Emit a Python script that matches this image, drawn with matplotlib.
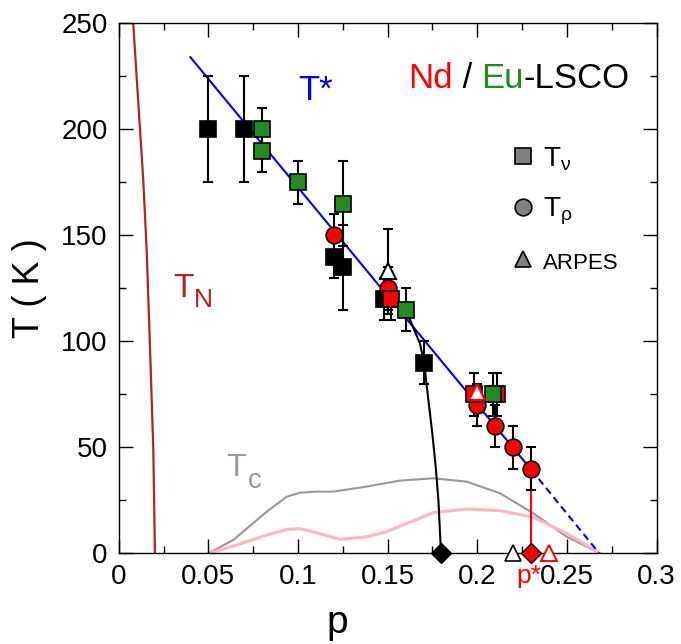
import matplotlib
matplotlib.use('Agg')
import matplotlib.pyplot as plt
import matplotlib.transforms as mtransforms
from matplotlib.lines import Line2D

plt.rcParams['font.family'] = ['Liberation Sans', 'DejaVu Sans']
plt.rcParams['mathtext.fontset'] = 'custom'
plt.rcParams['mathtext.rm'] = 'Liberation Sans'
plt.rcParams['mathtext.it'] = 'Liberation Sans:italic'

# T_nu, LSCO (black squares)
lsco_p = [0.05, 0.07, 0.12, 0.125, 0.148, 0.17]
lsco_T = [200, 200, 140, 135, 120, 90]
lsco_err = [25, 25, 10, 20, 10, 10]

# T_nu, Eu-LSCO (green squares)
eu_p = [0.08, 0.08, 0.1, 0.125, 0.16, 0.2085]
eu_T = [200, 190, 175, 165, 115, 75]
eu_err = [10, 10, 10, 20, 10, 10]

# T_nu, Nd-LSCO (red squares)
nd_p = [0.152, 0.198, 0.211]
nd_T = [120, 75, 75]
nd_err = [10, 10, 10]

# T_rho, Nd-LSCO (red circles)
rho_p = [0.12, 0.15, 0.2, 0.21, 0.22, 0.23]
rho_T = [150, 125, 70, 60, 50, 40]
rho_err = [10, 10, 10, 10, 10, 10]

# ARPES
arpes_p = [0.15]
arpes_T = [133]
arpes_err = [20]
arpes_nd_p = [0.2]
arpes_nd_T = [76]

# T = 0 markers
pc_lsco = 0.18
pstar_nd = 0.23
arpes0_lsco = 0.22
arpes0_nd = 0.24

# T* line
tstar_p = [0.04, 0.23]
tstar_T = [234, 39.5]
tstar_dash_p = [0.23, 0.268]
tstar_dash_T = [39.5, 0]

# drop of T_nu in LSCO
drop_p = [0.1597, 0.1625, 0.168, 0.1704, 0.1727, 0.1749, 0.1768, 0.1783, 0.1792, 0.1798]
drop_T = [114.8, 110.1, 99, 89.6, 72.3, 56.6, 40.8, 25.1, 9.4, 0]

# p* vertical line
pstar_p = [0.23, 0.23]
pstar_T = [40, 0]

# T_N
tn_p = [0.0081, 0.0137, 0.0156, 0.0175, 0.0193, 0.0202]
tn_T = [250, 176, 143, 96, 49, 0]

# Tc domes
tc_lsco_p = [0.05, 0.0639, 0.0825, 0.0937, 0.1011, 0.1104, 0.1197, 0.1383, 0.1569,
             0.1755, 0.1941, 0.2127, 0.2312, 0.2499, 0.2685]
tc_lsco_T = [0, 6.3, 19.6, 26.7, 28.6, 29.1, 29.1, 31.5, 34.3, 35.4, 33.8, 28.3, 18.9, 7.8, 0]
tc_nd_p = [0.05, 0.0639, 0.0825, 0.0937, 0.1011, 0.1104, 0.1234, 0.1383, 0.1495, 0.1606,
           0.1755, 0.1941, 0.2127, 0.2312, 0.2499, 0.2685]
tc_nd_T = [0, 3.4, 8.6, 11.3, 11.6, 9.7, 6.6, 7.8, 10.2, 14.1, 19.2, 20.9, 20.1, 17, 9.4, 0]

RED = '#ff0000'
GREEN = '#228b22'
BLUE = '#0000ff'
BROWN = '#b22222'

fig = plt.figure(figsize=(6.81, 6.44), dpi=100)
ax = fig.add_axes([0.1743, 0.1408, 0.7899, 0.8230])

# curves
ax.plot(tc_lsco_p, tc_lsco_T, color='#999999', lw=1.5, zorder=1)
ax.plot(tc_nd_p, tc_nd_T, color='#ffb6c1', lw=2.2, zorder=1)
ax.plot(tn_p, tn_T, color=BROWN, lw=1.6, zorder=1)
ax.plot(tstar_p, tstar_T, color=BLUE, lw=1.5, zorder=2)
ax.plot(tstar_dash_p, tstar_dash_T, color=BLUE, lw=1.5, ls=(0, (3.5, 2.2)), zorder=2)
ax.plot(drop_p, drop_T, color='black', lw=1.5, zorder=2)
ax.plot(pstar_p, pstar_T, color=RED, lw=1.5, zorder=2)

# error bars
ebkw = dict(fmt='none', ecolor='black', elinewidth=1.5, capsize=3.5, capthick=1.5, zorder=3)
ax.errorbar(lsco_p, lsco_T, yerr=lsco_err, **ebkw)
ax.errorbar(eu_p, eu_T, yerr=eu_err, **ebkw)
ax.errorbar(nd_p, nd_T, yerr=nd_err, **ebkw)
ax.errorbar(rho_p, rho_T, yerr=rho_err, **ebkw)
ax.errorbar(arpes_p, arpes_T, yerr=arpes_err, **ebkw)

# markers
mkw = dict(ls='none', mec='black', mew=1.2)
ax.plot(lsco_p, lsco_T, marker='s', ms=11.5, mfc='black', zorder=4, **mkw)
ax.plot(rho_p, rho_T, marker='o', ms=12, mfc=RED, zorder=5, **mkw)
ax.plot(nd_p, nd_T, marker='s', ms=11.5, mfc=RED, zorder=6, **mkw)
ax.plot(eu_p, eu_T, marker='s', ms=11.5, mfc=GREEN, zorder=7, **mkw)
ax.plot(arpes_p, arpes_T, marker='^', ms=11.5, mfc='white', mec='black', mew=1.4,
        ls='none', zorder=8)
ax.plot(arpes_nd_p, arpes_nd_T, marker='^', ms=11.5, mfc='white', mec=RED, mew=1.6,
        ls='none', zorder=8)

# T = 0 markers
ax.plot([pc_lsco], [0], marker='D', ms=10.5, mfc='black', mec='black', ls='none',
        zorder=9, clip_on=False)
ax.plot([pstar_nd], [0], marker='D', ms=10.5, mfc=RED, mec='black', mew=1.0, ls='none',
        zorder=9, clip_on=False)
ax.plot([arpes0_lsco], [0], marker='^', ms=11, mfc='white', mec='black', mew=1.2,
        ls='none', zorder=8, clip_on=False)
ax.plot([arpes0_nd], [0], marker='^', ms=11, mfc='white', mec=RED, mew=1.4,
        ls='none', zorder=8, clip_on=False)

# axes
ax.set_xlim(0, 0.3)
ax.set_ylim(0, 250)
ax.set_xticks([0, 0.05, 0.1, 0.15, 0.2, 0.25, 0.3])
ax.set_xticklabels(['0', '0.05', '0.1', '0.15', '0.2', '0.25', '0.3'])
ax.set_xticks([0.025, 0.075, 0.125, 0.175, 0.225, 0.275], minor=True)
ax.set_yticks([0, 50, 100, 150, 200, 250])
ax.set_yticks([25, 75, 125, 175, 225], minor=True)
ax.tick_params(which='both', direction='in', top=True, right=True, width=1.0,
               labelsize=20, pad=8)
ax.tick_params(which='major', length=10)
ax.tick_params(which='minor', length=5)
for s in ax.spines.values():
    s.set_linewidth(1.0)

ax.set_xlabel('p', fontsize=28)
ax.xaxis.set_label_coords(0.406, -0.097)
ax.set_ylabel('T ( K )', fontsize=26, labelpad=10)

# labels
ax.text(0.1, 214, 'T*', color=BLUE, fontsize=25, va='baseline')

tN = ax.text(0.0303, 121, 'T', color=BROWN, fontsize=24, va='baseline')
ax.annotate('N', xy=(1, 0), xycoords=tN, xytext=(0, -2), textcoords='offset points',
            color=BROWN, fontsize=19, va='baseline')
tc = ax.text(0.0602, 36.5, 'T', color='#999999', fontsize=23, va='baseline')
ax.annotate('c', xy=(1, 0), xycoords=tc, xytext=(1, -4), textcoords='offset points',
            color='#999999', fontsize=20, va='baseline')

trans = mtransforms.blended_transform_factory(ax.transData, ax.transAxes)
ax.text(0.2285, -0.056, 'p*', color=RED, fontsize=19, ha='center', va='baseline',
        transform=trans)

t1 = ax.text(0.1614, 219.5, 'Nd', color=RED, fontsize=25, va='baseline')
t2 = ax.annotate(' / ', xy=(1, 0), xycoords=t1, color='black', fontsize=25,
                 va='bottom')
t3 = ax.annotate('Eu', xy=(1, 0), xycoords=t2, color=GREEN, fontsize=25, va='bottom')
ax.annotate('-LSCO', xy=(1, 0), xycoords=t3, color='black', fontsize=25, va='bottom')

# legend
handles = [
    Line2D([0], [0], marker='s', ls='none', ms=12, mfc='#808080', mec='black', mew=1.2),
    Line2D([0], [0], marker='o', ls='none', ms=12, mfc='#808080', mec='black', mew=1.2),
    Line2D([0], [0], marker='^', ls='none', ms=12, mfc='#808080', mec='black', mew=1.2),
]
leg = ax.legend(handles, [r'T$_{\mathrm{\nu}}$', r'T$_{\mathrm{\rho}}$', 'ARPES'],
                loc='upper left', bbox_to_anchor=(0.725, 0.77), frameon=False,
                fontsize=20, handlelength=1.0, handletextpad=0.25, labelspacing=0.82,
                borderpad=0, borderaxespad=0)
leg.get_texts()[2].set_fontsize(16)

fig.savefig('out.png', dpi=100)
